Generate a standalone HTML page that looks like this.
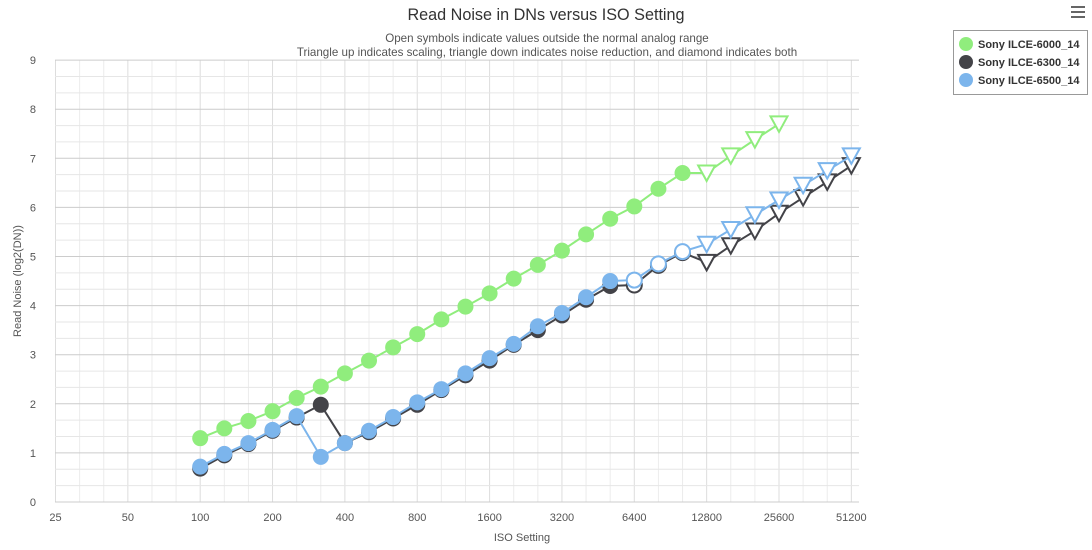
<!DOCTYPE html>
<html><head><meta charset="utf-8"><style>
body{margin:0;background:#fff;font-family:"Liberation Sans",sans-serif}
</style></head><body>
<svg id="s" width="1092" height="545" xmlns="http://www.w3.org/2000/svg" font-family="Liberation Sans, sans-serif">
<text x="546" y="20" text-anchor="middle" font-size="16.2" fill="#333">Read Noise in DNs versus ISO Setting</text>
<text x="547" y="42" text-anchor="middle" font-size="11.6" fill="#555">Open symbols indicate values outside the normal analog range</text>
<text x="547" y="56" text-anchor="middle" font-size="11.6" fill="#555">Triangle up indicates scaling, triangle down indicates noise reduction, and diamond indicates both</text>
<text x="522" y="541" text-anchor="middle" font-size="11" fill="#555">ISO Setting</text>
<text transform="translate(21,281) rotate(-90)" text-anchor="middle" font-size="11" fill="#555">Read Noise (log2(DN))</text>
<g id="grid"></g><g id="ser"></g>
<g fill="#666"><rect x="1071" y="6" width="14" height="2"/><rect x="1071" y="11" width="14" height="2"/><rect x="1071" y="16" width="14" height="2"/></g>
<rect x="953.5" y="30.5" width="134" height="64" fill="#fff" stroke="#999"/>
<circle cx="966" cy="44" r="7" fill="#90ed7d"/><text x="978" y="48" font-size="11" font-weight="bold" fill="#333">Sony ILCE-6000_14</text>
<circle cx="966" cy="62" r="7" fill="#434348"/><text x="978" y="66" font-size="11" font-weight="bold" fill="#333">Sony ILCE-6300_14</text>
<circle cx="966" cy="80" r="7" fill="#7cb5ec"/><text x="978" y="84" font-size="11" font-weight="bold" fill="#333">Sony ILCE-6500_14</text>
</svg>
<script>
const NS="http://www.w3.org/2000/svg";
function el(p,t,a){const e=document.createElementNS(NS,t);for(const k in a)e.setAttribute(k,a[k]);p.appendChild(e);return e;}
const X0=55.5,OCT=72.35,Y0=502,YU=49.1;
const xs=i=>X0+OCT*(2+i/3);
const ys=v=>Y0-v*YU;
const g=document.getElementById('grid');
for(let k=0;k<=45;k++){const x=X0+k*OCT/3;if(x>859)break;el(g,'line',{x1:x,x2:x,y1:60,y2:Y0,stroke:k%3==0?'#ddd':'#ececec','stroke-width':1});}
for(let k=0;k<=27;k++){const y=Y0-k*YU/3;el(g,'line',{x1:55,x2:859,y1:y,y2:y,stroke:k%3==0?'#ccc':'#e6e6e6','stroke-width':1});}
for(let v=0;v<=9;v++){const t=el(g,'text',{x:36,y:ys(v)+4,'font-size':11,fill:'#555','text-anchor':'end'});t.textContent=v;}
[25,50,100,200,400,800,1600,3200,6400,12800,25600,51200].forEach((l,i)=>{const t=el(g,'text',{x:X0+i*OCT,y:521,'font-size':11,fill:'#555','text-anchor':'middle'});t.textContent=l;});
const green=[1.3,1.5,1.65,1.85,2.12,2.35,2.62,2.88,3.15,3.42,3.72,3.98,4.25,4.55,4.83,5.12,5.45,5.77,6.02,6.38,6.7,6.7,7.05,7.38,7.7];
const black=[0.68,0.95,1.18,1.45,1.72,1.98,1.2,1.42,1.7,1.98,2.28,2.58,2.88,3.2,3.5,3.8,4.12,4.4,4.42,4.82,5.08,4.88,5.22,5.52,5.88,6.2,6.52,6.85];
const blue=[0.72,0.98,1.2,1.47,1.75,0.92,1.2,1.45,1.73,2.03,2.3,2.62,2.93,3.22,3.58,3.85,4.17,4.5,4.52,4.85,5.1,5.25,5.55,5.85,6.15,6.45,6.75,7.05];
const S=document.getElementById('ser');
function series(d,col,openFrom,triFrom){
 el(S,'polyline',{points:d.map((v,i)=>xs(i)+','+ys(v)).join(' '),fill:'none',stroke:col,'stroke-width':2});
 d.forEach((v,i)=>{const x=xs(i),y=ys(v);
  if(i>=triFrom){el(S,'path',{d:`M${x-8.5},${y-7.5}L${x+8.5},${y-7.5}L${x},${y+8}Z`,fill:'#fff',stroke:col,'stroke-width':2});}
  else if(i>=openFrom){el(S,'circle',{cx:x,cy:y,r:7.5,fill:'#fff',stroke:col,'stroke-width':2});}
  else el(S,'circle',{cx:x,cy:y,r:8,fill:col});
 });
}
series(green,'#90ed7d',99,21);
series(black,'#434348',18,21);
series(blue,'#7cb5ec',18,21);
</script>
</body></html>
